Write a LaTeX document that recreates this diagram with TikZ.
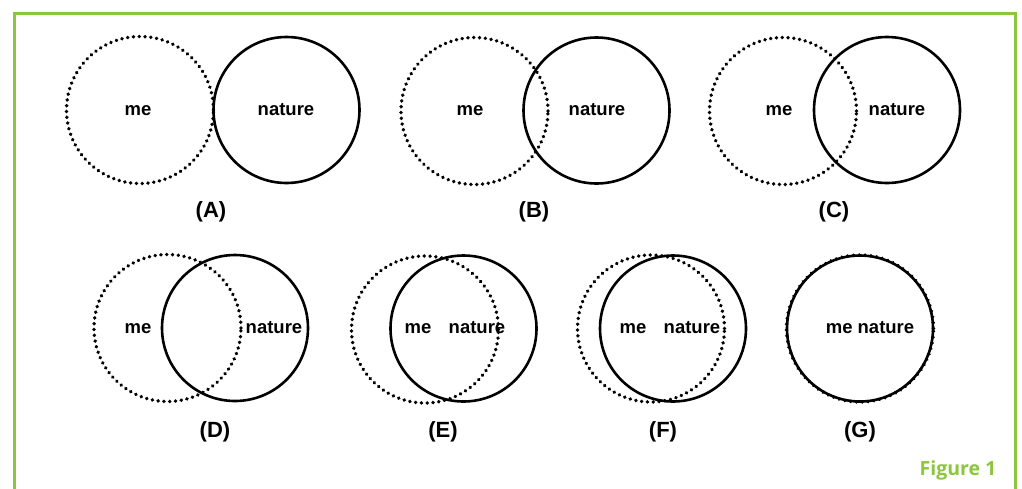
\documentclass[tikz,border=0pt]{standalone}
\usepackage{fontspec}
\setmainfont{Liberation Sans}
\newfontfamily\figfont{Open Sans}
\definecolor{figgreen}{RGB}{140,198,63}
\begin{document}
\begin{tikzpicture}[x=1pt,y=-1pt,
  mecirc/.style={draw,circle,inner sep=0pt,minimum size=147pt,line width=3.8pt,dash pattern=on 0.01pt off 5.8pt,line cap=round},
  natcirc/.style={draw,circle,inner sep=0pt,minimum size=146pt,line width=2.6pt},
  lbl/.style={font=\bfseries\fontsize{18.5}{20}\selectfont,inner sep=0pt,anchor=base},
  caplbl/.style={font=\bfseries\fontsize{22}{24}\selectfont,inner sep=0pt,anchor=base}]
\useasboundingbox (0,0) rectangle (1022,488);
\draw[figgreen,line width=3pt] (14.5,492) -- (14.5,13) -- (1015.5,13) -- (1015.5,492);
% (A)
\node[mecirc] (meA) at (140,110) {};
\node[natcirc] (natA) at (286.5,110) {};
\node[lbl] (tmeA) at (138,115) {me};
\node[lbl] (tnatA) at (286,115) {nature};
\node[caplbl] (capA) at (211,217) {(A)};
% (B)
\node[mecirc] (meB) at (474.5,111) {};
\node[natcirc] (natB) at (596.5,110.5) {};
\node[lbl] (tmeB) at (470,115) {me};
\node[lbl] (tnatB) at (597,115) {nature};
\node[caplbl] (capB) at (534,217) {(B)};
% (C)
\node[mecirc] (meC) at (783,111) {};
\node[natcirc] (natC) at (887,110) {};
\node[lbl] (tmeC) at (779,115) {me};
\node[lbl] (tnatC) at (897,115) {nature};
\node[caplbl] (capC) at (834,217) {(C)};
% (D)
\node[mecirc] (meD) at (167.5,328) {};
\node[natcirc] (natD) at (235,328) {};
\node[lbl] (tmeD) at (138,333) {me};
\node[lbl] (tnatD) at (274,333) {nature};
\node[caplbl] (capD) at (215,437) {(D)};
% (E)
\node[mecirc] (meE) at (425,329.5) {};
\node[natcirc] (natE) at (463.5,328.5) {};
\node[lbl] (tmeE) at (418,333) {me};
\node[lbl] (tnatE) at (477,333) {nature};
\node[caplbl] (capE) at (443,437) {(E)};
% (F)
\node[mecirc] (meF) at (651,328.5) {};
\node[natcirc] (natF) at (673,328.5) {};
\node[lbl] (tmeF) at (633,333) {me};
\node[lbl] (tnatF) at (692,333) {nature};
\node[caplbl] (capF) at (663,437) {(F)};
% (G)
\node[mecirc] (meG) at (860,328.5) {};
\node[natcirc] (natG) at (860,328.5) {};
\node[lbl] (tG) at (870,333) {me nature};
\node[caplbl] (capG) at (860,437) {(G)};
% caption
\node[font=\figfont\bfseries\fontsize{19.5}{24}\selectfont,text=figgreen,inner sep=0pt,anchor=base] (fig) at (958,475) {Figure 1};
\end{tikzpicture}
\end{document}
